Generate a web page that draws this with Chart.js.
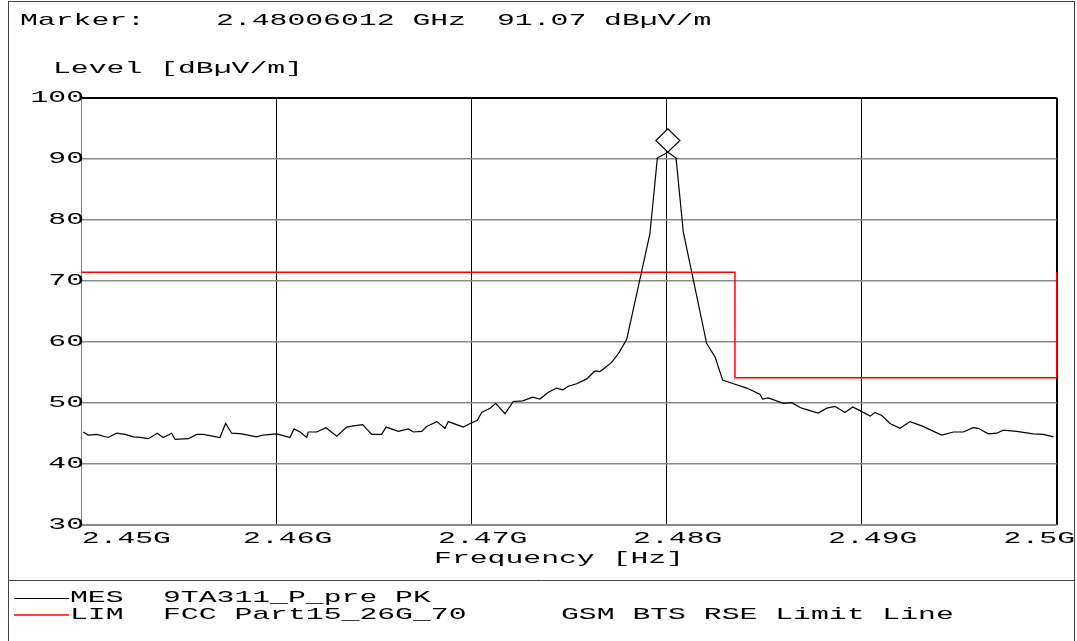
<!DOCTYPE html>
<html>
<head>
<meta charset="utf-8">
<script src="https://cdn.jsdelivr.net/npm/chart.js@4.4.1/dist/chart.umd.min.js"></script>
<style>
html, body { margin: 0; padding: 0; background: #fff; }
#wrap { position: relative; width: 1077px; height: 641px; }
</style>
</head>
<body>
<div id="wrap"><canvas id="grafico"></canvas></div>
<script>
// MES trace
const mesFreq = [
  2.45008, 2.45034, 2.45077, 2.45136, 2.45179, 2.45222, 2.45265, 2.45299, 2.45342, 2.45388,
  2.45418, 2.45462, 2.45478, 2.45547, 2.45590, 2.45624, 2.45709, 2.45738, 2.45769, 2.45821,
  2.45897, 2.45931, 2.46000, 2.46068, 2.46089, 2.46120, 2.46154, 2.46162, 2.46205, 2.46253,
  2.46308, 2.46359, 2.46393, 2.46441, 2.46487, 2.46538, 2.46561, 2.46624, 2.46675, 2.46701,
  2.46744, 2.46769, 2.46821, 2.46863, 2.46880, 2.46940, 2.46957, 2.47000, 2.47029, 2.47051,
  2.47094, 2.47123, 2.47171, 2.47213, 2.47262, 2.47313, 2.47350, 2.47393, 2.47436, 2.47467,
  2.47495, 2.47538, 2.47590, 2.47632, 2.47658, 2.47718, 2.47757, 2.47795, 2.47914, 2.47952,
  2.48006, 2.48048, 2.48085, 2.48205, 2.48248, 2.48287, 2.48342, 2.48410, 2.48478, 2.48492,
  2.48521, 2.48598, 2.48641, 2.48692, 2.48777, 2.48821, 2.48863, 2.48914, 2.48954, 2.48991,
  2.49043, 2.49068, 2.49103, 2.49145, 2.49196, 2.49248, 2.49308, 2.49410, 2.49470, 2.49521,
  2.49572, 2.49598, 2.49649, 2.49692, 2.49726, 2.49795, 2.49880, 2.49931, 2.49983
];
const mesLevel = [
  45.2, 44.7, 44.8, 44.3, 45.0, 44.8, 44.4, 44.3, 44.1, 45.0,
  44.3, 45.0, 44.0, 44.1, 44.8, 44.8, 44.3, 46.6, 45.0, 44.9,
  44.4, 44.7, 44.9, 44.3, 45.7, 45.2, 44.3, 45.2, 45.2, 45.9,
  44.5, 46.0, 46.2, 46.4, 44.8, 44.8, 46.0, 45.3, 45.7, 45.2,
  45.3, 46.1, 46.9, 45.8, 46.9, 46.2, 46.0, 46.7, 47.1, 48.4,
  49.1, 49.9, 48.2, 50.2, 50.3, 50.9, 50.6, 51.7, 52.4, 52.1,
  52.7, 53.1, 53.9, 55.2, 55.1, 56.6, 58.3, 60.4, 77.7, 90.1,
  91.07, 90.1, 78.0, 59.7, 57.5, 53.7, 53.1, 52.4, 51.4, 50.6,
  50.8, 49.9, 50.0, 49.1, 48.3, 49.1, 49.4, 48.4, 49.3, 48.7,
  47.8, 48.4, 47.9, 46.6, 45.8, 46.9, 46.2, 44.7, 45.2, 45.2,
  45.9, 45.8, 44.9, 45.0, 45.5, 45.3, 44.9, 44.8, 44.4
];

// LIM line
const limFreq = [2.45, 2.4835, 2.4835, 2.5, 2.5];
const limLevel = [71.4, 71.4, 54.1, 54.1, 71.4];

// axes
const yTicks = [30, 40, 50, 60, 70, 80, 90, 100];
const xTicks = [2.45, 2.46, 2.47, 2.48, 2.49, 2.5];
const xTickLabels = ['2.45G', '2.46G', '2.47G', '2.48G', '2.49G', '2.5G'];

// marker
const markerFreq = 2.48006;
const markerLevel = 91.07;
const markerTexts = ['Marker:', '2.48006012 GHz', '91.07 dBµV/m'];

const yTitle = 'Level [dBµV/m]';
const xTitle = 'Frequency [Hz]';
const legendRows = [
  ['MES', '9TA311_P_pre PK', ''],
  ['LIM', 'FCC Part15_26G_70', 'GSM BTS RSE Limit Line']
];

const FONT = '17px "Liberation Mono"';
const SX = 1.75;

function wideText(ctx, str, x, y, align) {
  ctx.save();
  ctx.font = FONT;
  ctx.fillStyle = '#000';
  ctx.textBaseline = 'alphabetic';
  ctx.textAlign = 'left';
  let w = ctx.measureText(str).width * SX;
  let x0 = x;
  if (align == 'center') x0 = x - w / 2;
  if (align == 'right') x0 = x - w;
  ctx.translate(x0, y);
  ctx.scale(SX, 1);
  ctx.fillText(str, 0, 0);
  ctx.restore();
}

function line(ctx, x1, y1, x2, y2, color, width) {
  ctx.save();
  ctx.strokeStyle = color;
  ctx.lineWidth = width;
  ctx.beginPath();
  ctx.moveTo(x1, y1);
  ctx.lineTo(x2, y2);
  ctx.stroke();
  ctx.restore();
}

let textPlugin = {
  id: 'texts',
  afterDatasetsDraw(chart) {
    let ctx = chart.ctx;
    let xs = chart.scales.x, ys = chart.scales.y;
    // marker diamond
    let px = xs.getPixelForValue(markerFreq);
    let py = ys.getPixelForValue(markerLevel);
    ctx.save();
    ctx.beginPath();
    ctx.moveTo(px, py);
    ctx.lineTo(px + 12, py - 11.7);
    ctx.lineTo(px, py - 23.4);
    ctx.lineTo(px - 12, py - 11.7);
    ctx.closePath();
    ctx.fillStyle = '#fff';
    ctx.fill();
    ctx.strokeStyle = '#000';
    ctx.lineWidth = 1.2;
    ctx.stroke();
    ctx.restore();
  },
  afterDraw(chart) {
    let ctx = chart.ctx;
    let xs = chart.scales.x, ys = chart.scales.y;

    // frame and separator
    ctx.save();
    ctx.strokeStyle = '#444';
    ctx.lineWidth = 1;
    ctx.strokeRect(8.5, 1.5, 1066, 700);
    ctx.restore();
    line(ctx, 8.5, 580.5, 1074.5, 580.5, '#444', 1);

    wideText(ctx, markerTexts[0], 20, 25);
    wideText(ctx, markerTexts[1], 216, 25);
    wideText(ctx, markerTexts[2], 497, 25);
    wideText(ctx, yTitle, 53, 73);

    ys.ticks.forEach(function(t) {
      wideText(ctx, String(t.value), 84, ys.getPixelForValue(t.value) + 4.7, 'right');
    });
    xs.ticks.forEach(function(t, i) {
      let p = xs.getPixelForValue(t.value);
      let lbl = xTickLabels[i];
      if (i == 0) wideText(ctx, lbl, p, 543, 'left');
      else if (i == xs.ticks.length - 1) wideText(ctx, lbl, 1075, 543, 'right');
      else wideText(ctx, lbl, p + 11, 543, 'center');
    });
    wideText(ctx, xTitle, 559, 563, 'center');

    // legend
    line(ctx, 14, 598.5, 69, 598.5, '#000', 1);
    line(ctx, 14, 615, 69, 615, 'rgb(255,0,0)', 1.6);
    wideText(ctx, legendRows[0][0], 70, 602);
    wideText(ctx, legendRows[0][1], 163, 602);
    wideText(ctx, legendRows[1][0], 70, 619);
    wideText(ctx, legendRows[1][1], 163, 619);
    wideText(ctx, legendRows[1][2], 561, 619);
  }
};

let dados = {
  datasets: [{
    label: 'LIM',
    data: limFreq.map(function(f, i) { return { x: f, y: limLevel[i] }; }),
    borderColor: '#ff0000',
    borderWidth: 1.5,
    pointRadius: 0,
    showLine: true,
    clip: 4,
    order: 0
  }, {
    label: 'MES',
    data: mesFreq.map(function(f, i) { return { x: f, y: mesLevel[i] }; }),
    borderColor: '#000',
    borderWidth: 1.2,
    pointRadius: 0,
    showLine: true,
    order: 1
  }]
};

let options = {
  responsive: true,
  maintainAspectRatio: false,
  animation: false,
  events: [],
  layout: { padding: { left: 81.7, right: 20.3, top: 97.7, bottom: 116.3 } },
  plugins: { legend: { display: false }, tooltip: { enabled: false } },
  scales: {
    x: {
      type: 'linear',
      min: 2.45,
      max: 2.5,
      afterBuildTicks: function(scale) { scale.ticks = xTicks.map(function(v) { return { value: v }; }); },
      ticks: { display: false },
      border: { display: false },
      grid: {
        drawTicks: false,
        color: function(c) { return c.index == 0 ? '#808080' : '#000'; },
        lineWidth: function(c) { return c.index == xTicks.length - 1 ? 2 : 1; }
      }
    },
    y: {
      type: 'linear',
      min: 30,
      max: 100,
      afterBuildTicks: function(scale) { scale.ticks = yTicks.map(function(v) { return { value: v }; }); },
      ticks: { display: false },
      border: { display: false },
      grid: {
        drawTicks: false,
        color: function(c) { return c.tick && c.tick.value == 100 ? '#000' : '#8a8a8a'; },
        lineWidth: function(c) { return c.tick && (c.tick.value == 100 || c.tick.value == 30) ? 2 : 1.5; }
      }
    }
  }
};

let ctx = document.getElementById('grafico').getContext('2d');
var graficoChart = new Chart(ctx, {
  type: 'scatter',
  data: dados,
  options: options,
  plugins: [textPlugin]
});
</script>
</body>
</html>
